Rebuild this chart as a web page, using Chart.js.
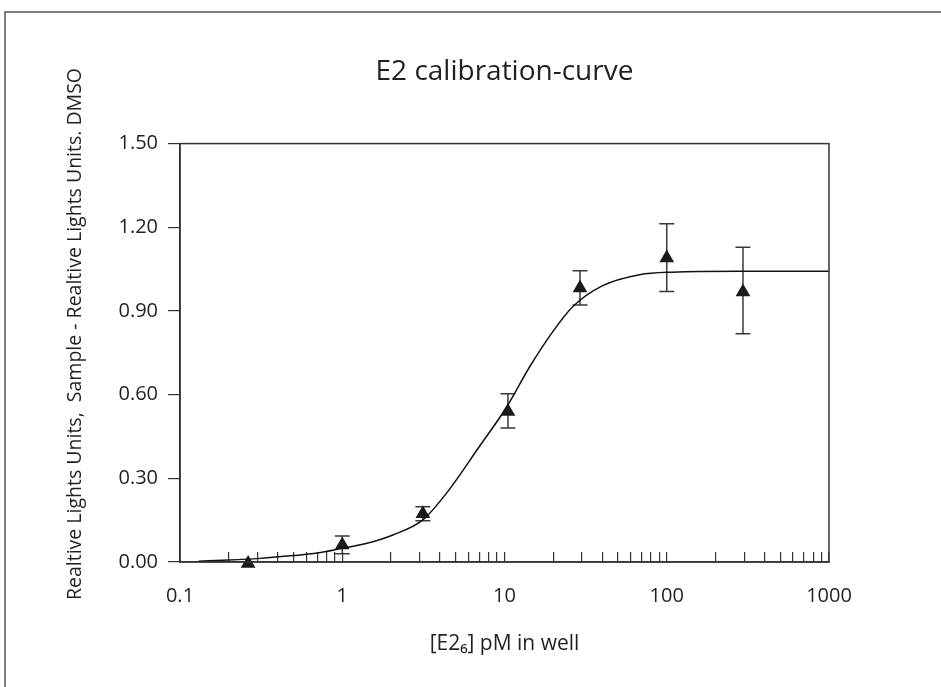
<!DOCTYPE html>
<html>
<head>
<meta charset="utf-8">
<title>E2 calibration-curve</title>
<script src="https://cdn.jsdelivr.net/npm/chart.js@4.4.1/dist/chart.umd.min.js"></script>
<style>
  html, body { margin: 0; padding: 0; background: #fff; }
  #chartBox { position: relative; width: 941px; height: 687px; }
</style>
</head>
<body>
<div id="chartBox"><canvas id="calChart" width="941" height="687"></canvas></div>
<script>
// measured points (triangles) with error bars
const doseX = [0.263, 1.0, 3.14, 10.5, 29.2, 100, 295];
const respY = [-0.005, 0.061, 0.173, 0.54, 0.982, 1.09, 0.968];
const errUpper = [null, 0.093, 0.198, 0.603, 1.044, 1.213, 1.128];
const errLower = [null, 0.030, 0.148, 0.480, 0.921, 0.970, 0.818];

// fitted curve
const curveX = [0.13, 0.2, 0.31, 0.5, 0.7, 1.0, 1.4, 2.05, 3.14, 4.38, 7.0, 10.24, 14.3, 19.8, 26.3, 40, 68, 108, 280, 1000];
const curveY = [0.003, 0.007, 0.013, 0.023, 0.032, 0.049, 0.066, 0.097, 0.151, 0.246, 0.414, 0.553, 0.70, 0.825, 0.915, 0.99, 1.03, 1.039, 1.042, 1.042];

// axis ticks
const xTickValues = [0.1, 0.2, 0.3, 0.4, 0.5, 0.6, 0.7, 0.8, 0.9,
  1, 2, 3, 4, 5, 6, 7, 8, 9,
  10, 20, 30, 40, 50, 60, 70, 80, 90,
  100, 200, 300, 400, 500, 600, 700, 800, 900, 1000];
const xTickLabels = [0.1, 1, 10, 100, 1000];
const yTickValues = [0, 0.3, 0.6, 0.9, 1.2, 1.5];

const titleText = 'E2 calibration-curve';
const xTitle = '[E2\u2086] pM in well';
const yTitle = 'Realtive Lights Units,  Sample - Realtive Lights Units. DMSO';

const ink = '#231f20';
const axisGrey = '#333';
const fontFam = '"Open Sans", "Noto Sans", sans-serif';

// outer frame + box round the plot
const framePlugin = {
  id: 'frame',
  beforeDraw(chart) {
    const c = chart.ctx;
    c.save();
    c.strokeStyle = '#555';
    c.lineWidth = 1.5;
    c.beginPath();
    c.moveTo(5, 687);
    c.lineTo(5, 12);
    c.lineTo(941, 12);
    c.stroke();
    c.restore();
  },
  afterDraw(chart) {
    const a = chart.chartArea;
    const c = chart.ctx;
    c.save();
    c.strokeStyle = axisGrey;
    c.lineWidth = 1.5;
    c.strokeRect(a.left, a.top, a.right - a.left, a.bottom - a.top);
    // y title, a bit above the plot centre as in the original
    c.fillStyle = ink;
    c.font = '19.5px ' + fontFam;
    c.textAlign = 'center';
    c.textBaseline = 'middle';
    c.translate(75, 334);
    c.rotate(-Math.PI / 2);
    c.fillText(yTitle, 0, 0);
    c.restore();
  }
};

// vertical error bars with caps
const errorBarPlugin = {
  id: 'errorBars',
  beforeDatasetsDraw(chart) {
    const xs = chart.scales.x, ys = chart.scales.y;
    const c = chart.ctx;
    c.save();
    c.strokeStyle = '#3a3a3a';
    c.lineWidth = 1.5;
    for (let i = 0; i < doseX.length; i++) {
      if (errUpper[i] == null) continue;
      const px = xs.getPixelForValue(doseX[i]);
      const top = ys.getPixelForValue(errUpper[i]);
      const bot = ys.getPixelForValue(errLower[i]);
      c.beginPath();
      c.moveTo(px, top); c.lineTo(px, bot);
      c.moveTo(px - 7.5, top); c.lineTo(px + 7.5, top);
      c.moveTo(px - 7.5, bot); c.lineTo(px + 7.5, bot);
      c.stroke();
    }
    c.restore();
  }
};

const ctx = document.getElementById('calChart').getContext('2d');
new Chart(ctx, {
  type: 'scatter',
  data: {
    datasets: [{
      type: 'line',
      label: 'fit',
      data: curveX.map((x, i) => ({ x: x, y: curveY[i] })),
      borderColor: '#111',
      borderWidth: 1.5,
      pointRadius: 0,
      fill: false,
      cubicInterpolationMode: 'monotone'
    }, {
      label: 'E2',
      data: doseX.map((x, i) => ({ x: x, y: respY[i] })),
      clip: false,
      pointStyle: 'triangle',
      pointRadius: 8.5,
      pointHoverRadius: 8.5,
      backgroundColor: '#1a1a1a',
      borderColor: '#1a1a1a',
      borderWidth: 0
    }]
  },
  options: {
    responsive: false,
    animation: false,
    layout: { padding: { left: 0, right: 112, top: 0, bottom: 0 } },
    plugins: {
      legend: { display: false },
      tooltip: { enabled: false },
      title: {
        display: true,
        text: titleText,
        fullSize: false,
        color: ink,
        font: { family: fontFam, size: 28, weight: 'normal' },
        padding: { top: 55, bottom: 55 }
      }
    },
    scales: {
      x: {
        type: 'logarithmic',
        min: 0.1,
        max: 1000,
        afterBuildTicks: (s) => { s.ticks = xTickValues.map(v => ({ value: v })); },
        afterFit: (s) => { s.height = 125; },
        grid: { drawOnChartArea: false, tickLength: -10, color: axisGrey, lineWidth: 1.2 },
        border: { color: axisGrey, width: 1.5 },
        ticks: {
          autoSkip: false,
          maxRotation: 0,
          padding: 32,
          color: ink,
          font: { family: fontFam, size: 20 },
          callback: (v) => xTickLabels.includes(v) ? String(v) : ''
        },
        title: {
          display: true,
          text: xTitle,
          color: ink,
          font: { family: fontFam, size: 21 },
          padding: { top: 0, bottom: 30 }
        }
      },
      y: {
        min: 0,
        max: 1.5,
        afterBuildTicks: (s) => { s.ticks = yTickValues.map(v => ({ value: v })); },
        afterFit: (s) => { s.width = 180; },
        grid: { drawOnChartArea: false, tickLength: 12, color: axisGrey, lineWidth: 1.2 },
        border: { color: axisGrey, width: 1.5 },
        ticks: {
          padding: 10,
          color: ink,
          font: { family: fontFam, size: 20 },
          callback: (v) => Number(v).toFixed(2)
        }
      }
    }
  },
  plugins: [framePlugin, errorBarPlugin]
});
</script>
</body>
</html>
